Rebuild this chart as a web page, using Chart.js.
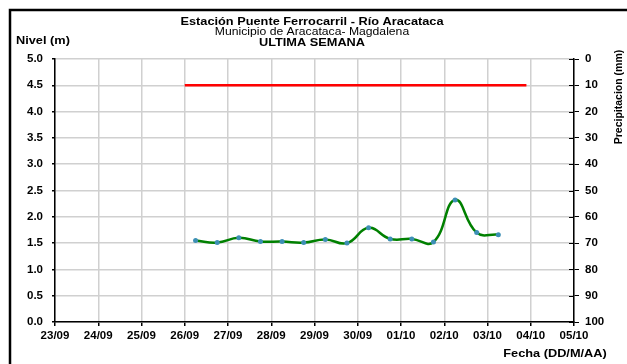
<!DOCTYPE html>
<html>
<head>
<meta charset="utf-8">
<script src="https://cdn.jsdelivr.net/npm/chart.js@4/dist/chart.umd.min.js"></script>
<style>
  html, body { margin: 0; background: #fff; }
  #wrap { width: 627px; height: 364px; }
</style>
</head>
<body>
<div id="wrap"><canvas id="chart" width="627" height="364"></canvas></div>
<script>
// x runs in days counted from 23/09
const dayLabels = ['23/09', '24/09', '25/09', '26/09', '27/09', '28/09', '29/09',
  '30/09', '01/10', '02/10', '03/10', '04/10', '05/10'];
const levelTimes = [3.25, 3.75, 4.25, 4.75, 5.25, 5.75, 6.25, 6.75,
  7.25, 7.75, 8.25, 8.75, 9.25, 9.75, 10.25];
const levelValues = [1.55, 1.51, 1.60, 1.53, 1.53, 1.51, 1.57, 1.50,
  1.79, 1.58, 1.58, 1.52, 2.32, 1.70, 1.66];
const alertTimes = [3, 10.9];
const alertValues = [4.5, 4.5];

const FONT = 'Liberation Sans, Arial, sans-serif';

const toPoints = (xs, ys) => xs.map((x, i) => ({x: x, y: ys[i]}));

// excel-ish text: slightly wider than it is tall
function stretchedText(ctx, text, x, y, font, align) {
  ctx.save();
  ctx.font = font;
  ctx.textAlign = align;
  ctx.translate(x, y);
  ctx.scale(1.16, 1);
  ctx.fillText(text, 0, 0);
  ctx.restore();
}

const decorations = {
  id: 'decorations',
  afterDatasetsDraw(chart) {
    const ctx = chart.ctx;
    const area = chart.chartArea;
    const y2 = chart.scales.y2;
    ctx.save();

    // inner half of the cross ticks on the right axis
    ctx.strokeStyle = '#000';
    ctx.lineWidth = 1;
    y2.ticks.forEach((t) => {
      const py = Math.round(y2.getPixelForValue(t.value)) + 0.5;
      ctx.beginPath();
      ctx.moveTo(area.right - 5, py);
      ctx.lineTo(area.right, py);
      ctx.stroke();
    });

    // frame
    ctx.lineWidth = 2.5;
    ctx.beginPath();
    ctx.moveTo(10, 364);
    ctx.lineTo(10, 10);
    ctx.lineTo(627, 10);
    ctx.stroke();

    ctx.fillStyle = '#000';
    ctx.textBaseline = 'alphabetic';
    stretchedText(ctx, 'Estación Puente Ferrocarril - Río Aracataca', 312, 25, 'bold 11px ' + FONT, 'center');
    stretchedText(ctx, 'Municipio de Aracataca- Magdalena', 312, 35, '10.5px ' + FONT, 'center');
    stretchedText(ctx, 'ULTIMA SEMANA', 312, 46, 'bold 11px ' + FONT, 'center');
    stretchedText(ctx, 'Nivel (m)', 16, 44, 'bold 11px ' + FONT, 'left');
    stretchedText(ctx, 'Fecha (DD/M/AA)', 555, 357, 'bold 11px ' + FONT, 'center');

    ctx.save();
    ctx.translate(622, 97);
    ctx.rotate(-Math.PI / 2);
    ctx.font = 'bold 10.5px ' + FONT;
    ctx.textAlign = 'center';
    ctx.fillText('Precipitacion (mm)', 0, 0);
    ctx.restore();

    ctx.restore();
  }
};

new Chart(document.getElementById('chart').getContext('2d'), {
  type: 'line',
  data: {
    datasets: [
      {
        label: 'Nivel',
        data: toPoints(levelTimes, levelValues),
        borderColor: '#008000',
        borderWidth: 2.5,
        backgroundColor: '#3d8fb5',
        pointBackgroundColor: '#3d8fb5',
        pointBorderWidth: 0,
        pointRadius: 2.5,
        tension: 0.45,
        yAxisID: 'y'
      },
      {
        label: 'Alerta',
        data: toPoints(alertTimes, alertValues),
        borderColor: '#ff0000',
        borderWidth: 2.5,
        pointRadius: 0,
        yAxisID: 'y'
      }
    ]
  },
  options: {
    responsive: false,
    animation: false,
    layout: {padding: {top: 59, left: 0, right: 0, bottom: 0}},
    plugins: {
      legend: {display: false},
      tooltip: {enabled: false}
    },
    scales: {
      x: {
        type: 'linear',
        min: 0,
        max: 12,
        afterFit: (s) => { s.height = 42; },
        ticks: {
          stepSize: 1,
          autoSkip: false,
          maxRotation: 0,
          padding: 3,
          color: '#000',
          font: {family: FONT, size: 11.5, weight: 'bold'},
          callback: (v) => dayLabels[v]
        },
        grid: {color: '#d0d0d0', lineWidth: 1.5, tickColor: '#000', tickLength: 4},
        border: {color: '#000', width: 1.5}
      },
      y: {
        position: 'left',
        min: 0,
        max: 5,
        afterFit: (s) => { s.width = 55; },
        ticks: {
          stepSize: 0.5,
          padding: 9,
          color: '#000',
          font: {family: FONT, size: 11.5, weight: 'bold'},
          callback: (v) => v.toFixed(1)
        },
        grid: {color: '#d0d0d0', lineWidth: 1.5, tickColor: '#000', tickLength: 3},
        border: {color: '#000', width: 1.5}
      },
      y2: {
        position: 'right',
        display: true,
        reverse: true,
        min: 0,
        max: 100,
        afterFit: (s) => { s.width = 53; },
        ticks: {
          stepSize: 10,
          padding: 6,
          color: '#000',
          font: {family: FONT, size: 11.5, weight: 'bold'}
        },
        grid: {drawOnChartArea: false, tickColor: '#000', tickLength: 5},
        border: {color: '#000', width: 1.5}
      }
    }
  },
  plugins: [decorations]
});
</script>
</body>
</html>
